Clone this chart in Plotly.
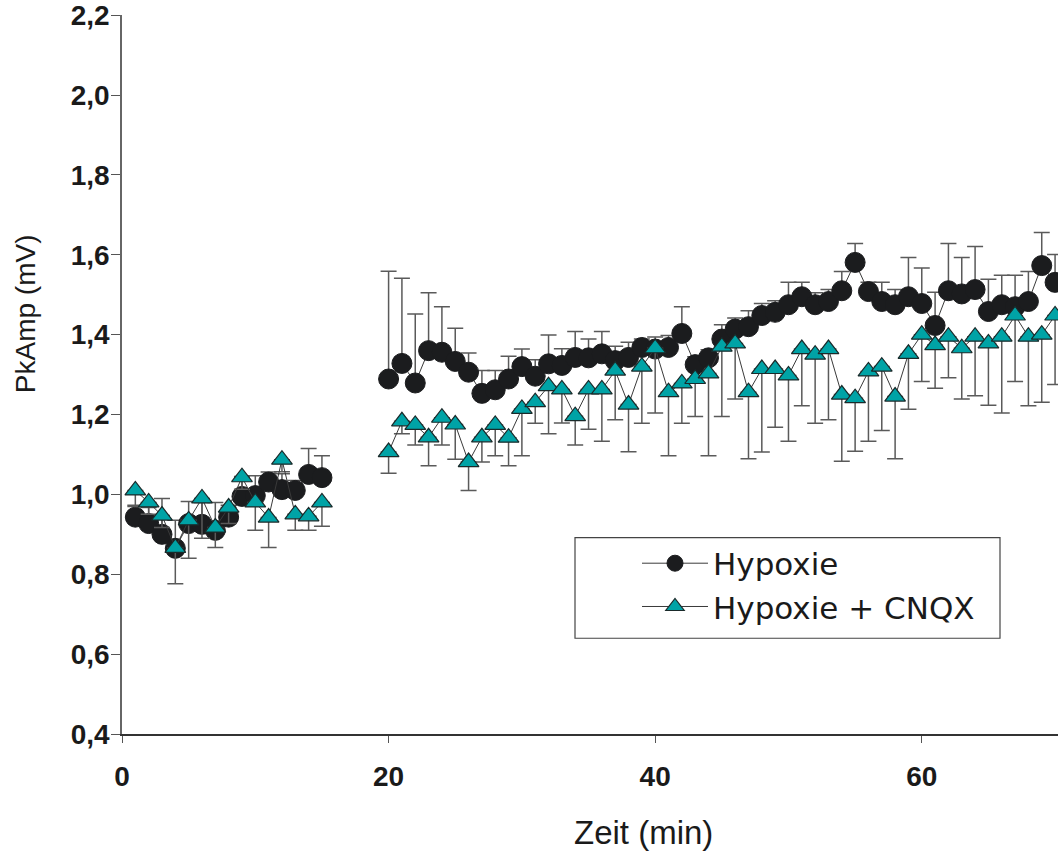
import plotly.graph_objects as go

# Zeitpunkte (min): Kontrollphase und Hypoxiephase
time_pre = [1, 2, 3, 4, 5, 6, 7, 8, 9, 10, 11, 12, 13, 14, 15]
time_post = [20, 21, 22, 23, 24, 25, 26, 27, 28, 29, 30, 31, 32, 33, 34, 35, 36,
             37, 38, 39, 40, 41, 42, 43, 44, 45, 46, 47, 48, 49, 50, 51, 52, 53,
             54, 55, 56, 57, 58, 59, 60, 61, 62, 63, 64, 65, 66, 67, 68, 69, 70]

# Hypoxie: Mittelwerte und Fehler (nach oben)
hyp_pre = [0.943, 0.927, 0.900, 0.865, 0.927, 0.925, 0.910, 0.943, 0.995, 0.997,
           1.031, 1.012, 1.010, 1.050, 1.042]
hyp_pre_err = [0.030, 0.040, 0.090, 0.070, 0.055, 0.055, 0.070, 0.030, 0.050, 0.050,
               0.025, 0.040, 0.025, 0.065, 0.055]
hyp_post = [1.289, 1.328, 1.279, 1.360, 1.356, 1.333, 1.306, 1.253, 1.262, 1.289,
            1.320, 1.296, 1.327, 1.323, 1.343, 1.342, 1.352, 1.335, 1.343, 1.368,
            1.364, 1.368, 1.403, 1.325, 1.342, 1.389, 1.414, 1.420, 1.448, 1.456,
            1.475, 1.495, 1.475, 1.483, 1.510, 1.581, 1.508, 1.483, 1.475, 1.495,
            1.478, 1.423, 1.510, 1.502, 1.513, 1.458, 1.475, 1.470, 1.483, 1.573,
            1.531]
hyp_post_err = [0.270, 0.213, 0.173, 0.145, 0.114, 0.083, 0.048, 0.057, 0.048, 0.057,
                0.044, 0.041, 0.072, 0.042, 0.065, 0.047, 0.056, 0.036, 0.038, 0.021,
                0.030, 0.030, 0.067, 0.020, 0.020, 0.036, 0.028, 0.040, 0.030, 0.029,
                0.056, 0.036, 0.030, 0.030, 0.048, 0.047, 0.023, 0.048, 0.038, 0.098,
                0.089, 0.083, 0.118, 0.091, 0.108, 0.081, 0.074, 0.079, 0.075, 0.083,
                0.070]

# Hypoxie + CNQX: Mittelwerte und Fehler (nach unten)
cnqx_pre = [1.010, 0.980, 0.947, 0.866, 0.935, 0.990, 0.917, 0.967, 1.043, 0.980,
            0.942, 1.087, 0.950, 0.945, 0.980]
cnqx_pre_err = [0.040, 0.030, 0.030, 0.090, 0.095, 0.100, 0.050, 0.040, 0.030, 0.070,
                0.075, 0.030, 0.040, 0.035, 0.060]
cnqx_post = [1.106, 1.183, 1.174, 1.143, 1.192, 1.175, 1.081, 1.143, 1.174, 1.142,
             1.214, 1.231, 1.271, 1.263, 1.196, 1.263, 1.263, 1.310, 1.225, 1.320,
             1.366, 1.256, 1.278, 1.289, 1.303, 1.370, 1.378, 1.256, 1.314, 1.314,
             1.298, 1.364, 1.350, 1.364, 1.250, 1.241, 1.308, 1.320, 1.245, 1.352,
             1.400, 1.374, 1.395, 1.366, 1.395, 1.378, 1.395, 1.448, 1.395, 1.400,
             1.448]
cnqx_post_err = [0.053, 0.031, 0.050, 0.071, 0.068, 0.087, 0.071, 0.062, 0.077, 0.070,
                 0.117, 0.053, 0.119, 0.084, 0.072, 0.100, 0.130, 0.123, 0.118, 0.142,
                 0.162, 0.159, 0.100, 0.094, 0.206, 0.175, 0.139, 0.167, 0.208, 0.146,
                 0.165, 0.142, 0.172, 0.177, 0.167, 0.133, 0.175, 0.160, 0.156, 0.139,
                 0.117, 0.108, 0.103, 0.127, 0.148, 0.155, 0.191, 0.165, 0.173, 0.169,
                 0.173]

y_ticks = [0.4, 0.6, 0.8, 1.0, 1.2, 1.4, 1.6, 1.8, 2.0, 2.2]
y_labels = ["0,4", "0,6", "0,8", "1,0", "1,2", "1,4", "1,6", "1,8", "2,0", "2,2"]
x_ticks = [0, 20, 40, 60]

W, H = 1058, 852
L, R, T, B = 122, 0, 13, 118
PW, PH = W - L - R, H - T - B


def px_x(p):
    return (p - L) / PW


def px_y(p):
    return (H - B - p) / PH


# Kontroll- und Hypoxiephase als getrennte Liniensegmente (Lücke dazwischen)
def joined(a, b):
    return list(a) + [None] + list(b)


tick_font = dict(family="Liberation Sans, Arial, sans-serif",
                 size=28, color="#1a1a1a", weight="bold")

fig = go.Figure()

fig.add_trace(go.Scatter(
    x=joined(time_pre, time_post),
    y=joined(hyp_pre, hyp_post),
    name="Hypoxie",
    mode="lines+markers",
    connectgaps=False,
    line=dict(color="#3a3a3a", width=1),
    marker=dict(symbol="circle", size=20, color="#1b1c1e",
                line=dict(color="#1b1c1e", width=1)),
    error_y=dict(type="data", symmetric=False,
                 array=joined(hyp_pre_err, hyp_post_err),
                 arrayminus=[0] * (len(hyp_pre) + 1 + len(hyp_post)),
                 color="#5a5a5a", thickness=1.5, width=8),
))

fig.add_trace(go.Scatter(
    x=joined(time_pre, time_post),
    y=joined(cnqx_pre, cnqx_post),
    name="Hypoxie + CNQX",
    mode="lines+markers",
    connectgaps=False,
    line=dict(color="#3a3a3a", width=1),
    marker=dict(symbol="triangle-up", size=18, color="#00a3a6",
                line=dict(color="#1a2a2a", width=1.2)),
    error_y=dict(type="data", symmetric=False,
                 array=[0] * (len(cnqx_pre) + 1 + len(cnqx_post)),
                 arrayminus=joined(cnqx_pre_err, cnqx_post_err),
                 color="#5a5a5a", thickness=1.5, width=8),
))

# Legendenrahmen
fig.add_shape(type="rect", xref="paper", yref="paper",
              x0=px_x(575), x1=px_x(1000), y0=px_y(638), y1=px_y(537),
              line=dict(color="#444444", width=1.2), fillcolor="white", layer="below")

# Achsentitel
fig.add_annotation(text="Zeit (min)", xref="paper", yref="paper",
                   x=px_x(643), y=px_y(833), xanchor="center", yanchor="middle",
                   showarrow=False,
                   font=dict(family="Liberation Sans, Arial, sans-serif", size=33, color="#1a1a1a"))
fig.add_annotation(text="PkAmp (mV)", xref="paper", yref="paper",
                   x=px_x(25), y=px_y(313), xanchor="center", yanchor="middle",
                   textangle=-90, showarrow=False,
                   font=dict(family="Liberation Sans, Arial, sans-serif", size=28, color="#1a1a1a"))

fig.update_layout(
    width=W, height=H,
    margin=dict(l=L, r=R, t=T, b=B, pad=0),
    paper_bgcolor="white", plot_bgcolor="white",
    showlegend=True,
    legend=dict(x=px_x(637), y=px_y(536), xanchor="left", yanchor="top",
                bgcolor="rgba(0,0,0,0)", borderwidth=0,
                font=dict(family="DejaVu Sans, Verdana, sans-serif", size=31, color="#1a1a1a"),
                tracegroupgap=0, itemwidth=66),
    xaxis=dict(range=[0, 70.22], tickvals=x_ticks, ticktext=[str(v) for v in x_ticks],
               showgrid=False, zeroline=False, showline=True, linecolor="#333333", linewidth=1.5,
               ticks="outside", ticklen=7, tickcolor="#555555", tickwidth=1,
               tickfont=tick_font, ticklabelstandoff=10),
    yaxis=dict(range=[0.4, 2.2005], tickvals=y_ticks, ticktext=y_labels,
               showgrid=False, zeroline=False, showline=True, linecolor="#666666", linewidth=1.5,
               ticks="outside", ticklen=9, tickcolor="#555555", tickwidth=1,
               tickfont=tick_font, ticklabelstandoff=-4, ticklabeloverflow="allow"),
)

fig.write_html("out.html")
